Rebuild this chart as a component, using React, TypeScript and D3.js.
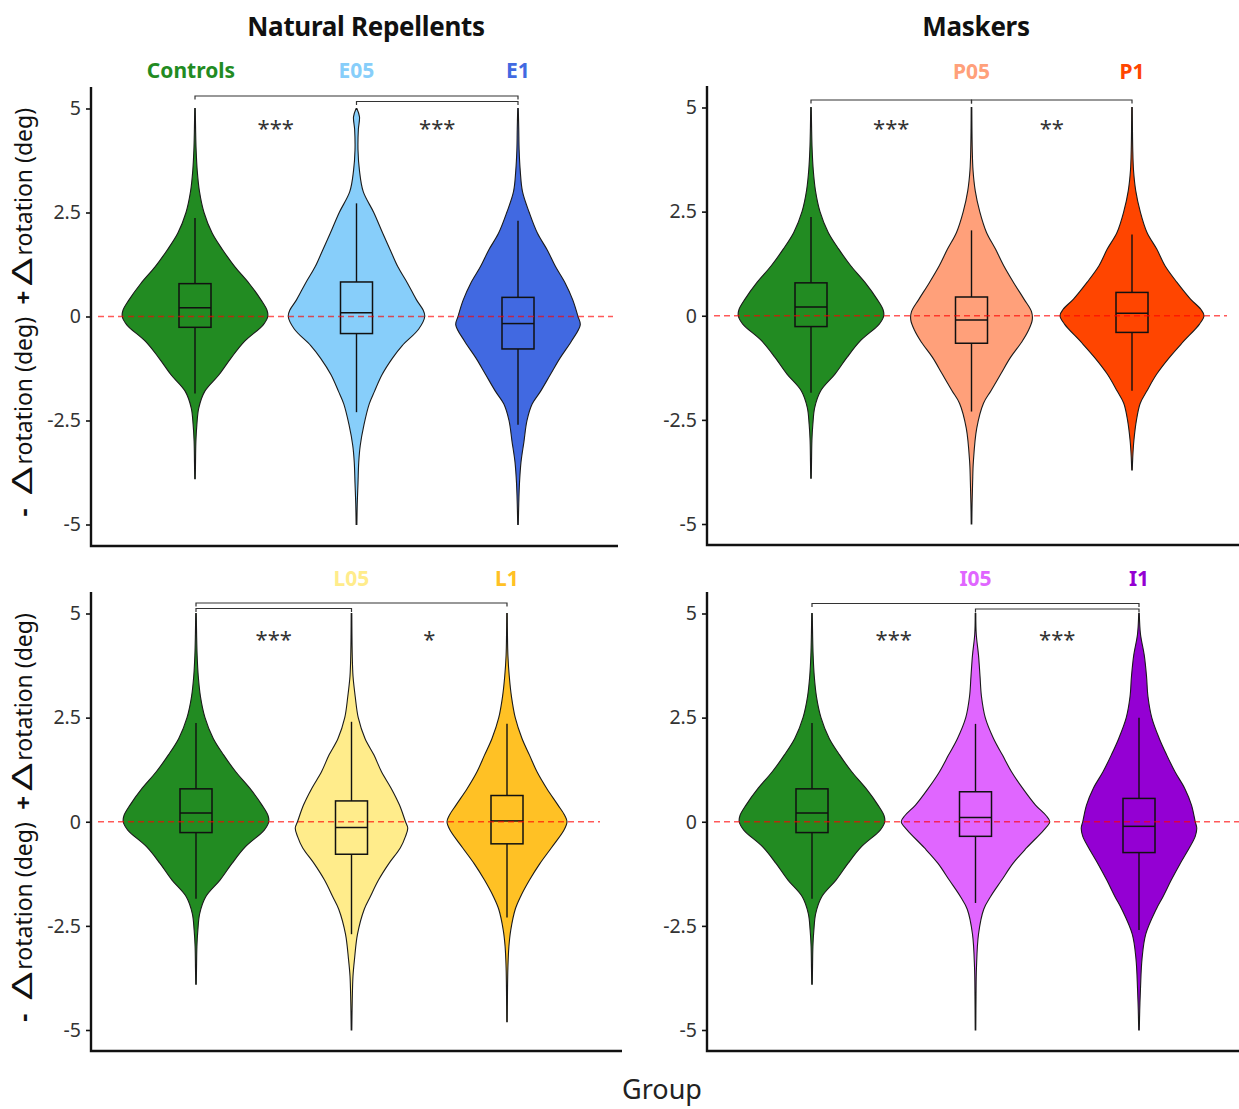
import React, { useEffect, useRef } from "react";
import * as d3 from "d3";

// y axis ticks (all panels)
const yTicks = [5, 2.5, 0, -2.5, -5];

// violin outlines: [rotation value, relative density]
const densControls: [number, number][] = [[5, 0.004], [4.5, 0.008], [4, 0.015], [3.5, 0.03], [3, 0.06], [2.5, 0.12], [2, 0.23], [1.6, 0.37], [1.2, 0.53], [0.8, 0.72], [0.4, 0.88], [0.15, 0.96], [0, 0.97], [-0.2, 0.91], [-0.6, 0.66], [-1, 0.48], [-1.4, 0.32], [-1.8, 0.13], [-2.2, 0.05], [-2.6, 0.025], [-3, 0.012], [-3.5, 0.007], [-3.9, 0.004]];
const densE05: [number, number][] = [[5, 0.005], [4.8, 0.04], [4.5, 0.025], [4, 0.02], [3.5, 0.04], [3, 0.09], [2.5, 0.23], [2, 0.35], [1.6, 0.45], [1.2, 0.55], [0.8, 0.68], [0.4, 0.8], [0.15, 0.89], [0, 0.91], [-0.3, 0.83], [-0.7, 0.61], [-1, 0.48], [-1.4, 0.34], [-1.8, 0.24], [-2.1, 0.17], [-2.6, 0.1], [-3.1, 0.05], [-3.5, 0.03], [-4, 0.02], [-4.5, 0.01], [-5, 0.005]];
const densE1: [number, number][] = [[5, 0.004], [4.5, 0.01], [4, 0.015], [3.5, 0.03], [3, 0.06], [2.5, 0.15], [2, 0.26], [1.6, 0.39], [1.2, 0.5], [0.8, 0.63], [0.4, 0.73], [0, 0.8], [-0.2, 0.83], [-0.6, 0.71], [-1, 0.56], [-1.4, 0.43], [-1.8, 0.3], [-2.1, 0.19], [-2.5, 0.12], [-3, 0.08], [-3.5, 0.04], [-4, 0.02], [-4.5, 0.01], [-5, 0.004]];
const densP05: [number, number][] = [[5, 0.004], [4.5, 0.006], [4, 0.01], [3.5, 0.02], [3, 0.05], [2.5, 0.11], [2, 0.2], [1.6, 0.32], [1.2, 0.43], [0.8, 0.56], [0.4, 0.7], [0.1, 0.8], [-0.1, 0.81], [-0.35, 0.76], [-0.63, 0.67], [-1, 0.52], [-1.4, 0.39], [-1.8, 0.26], [-2.1, 0.16], [-2.7, 0.07], [-3.5, 0.025], [-4, 0.015], [-4.5, 0.008], [-5, 0.004]];
const densP1: [number, number][] = [[5, 0.004], [4.5, 0.006], [4, 0.01], [3.5, 0.02], [3, 0.05], [2.5, 0.11], [2, 0.2], [1.6, 0.33], [1.2, 0.44], [0.8, 0.6], [0.4, 0.78], [0.15, 0.92], [0, 0.96], [-0.2, 0.9], [-0.63, 0.68], [-1, 0.5], [-1.4, 0.33], [-1.8, 0.2], [-2.1, 0.11], [-2.5, 0.06], [-3, 0.025], [-3.4, 0.01], [-3.7, 0.004]];
const densL05: [number, number][] = [[5, 0.004], [4.5, 0.006], [4, 0.01], [3.5, 0.02], [3, 0.05], [2.5, 0.09], [2, 0.18], [1.6, 0.3], [1.2, 0.4], [0.8, 0.53], [0.4, 0.64], [0, 0.72], [-0.15, 0.75], [-0.35, 0.72], [-0.63, 0.65], [-1, 0.5], [-1.4, 0.36], [-1.8, 0.25], [-2.1, 0.17], [-2.7, 0.08], [-3.3, 0.04], [-3.7, 0.02], [-4.3, 0.01], [-5, 0.004]];
const densL1: [number, number][] = [[5, 0.004], [4.5, 0.006], [4, 0.012], [3.5, 0.03], [3, 0.06], [2.5, 0.11], [2, 0.2], [1.6, 0.3], [1.2, 0.4], [0.8, 0.53], [0.4, 0.68], [0.15, 0.77], [0, 0.8], [-0.2, 0.76], [-0.63, 0.59], [-1, 0.44], [-1.4, 0.3], [-1.8, 0.18], [-2.1, 0.11], [-2.6, 0.05], [-3, 0.025], [-3.5, 0.012], [-4.2, 0.006], [-4.8, 0.004]];
const densI05: [number, number][] = [[5, 0.004], [4.5, 0.01], [4, 0.04], [3.5, 0.06], [3, 0.08], [2.5, 0.13], [2, 0.24], [1.6, 0.36], [1.2, 0.48], [0.8, 0.63], [0.4, 0.8], [0.15, 0.94], [0, 0.99], [-0.2, 0.91], [-0.63, 0.68], [-1, 0.5], [-1.4, 0.35], [-1.8, 0.2], [-2.1, 0.11], [-2.7, 0.04], [-3.5, 0.013], [-4.2, 0.007], [-5, 0.004]];
const densI1: [number, number][] = [[5, 0.004], [4.5, 0.02], [4, 0.07], [3.5, 0.1], [3, 0.12], [2.5, 0.17], [2, 0.27], [1.6, 0.37], [1.2, 0.48], [0.8, 0.61], [0.4, 0.7], [0, 0.75], [-0.15, 0.77], [-0.35, 0.75], [-0.63, 0.67], [-1, 0.55], [-1.4, 0.43], [-1.8, 0.32], [-2.1, 0.23], [-2.7, 0.09], [-3.3, 0.04], [-4, 0.02], [-4.5, 0.01], [-5, 0.004]];

// box stats: [lower whisker, q1, median, q3, upper whisker]
const boxControls = [-1.85, -0.26, 0.21, 0.79, 2.37];
const boxE05 = [-2.3, -0.41, 0.09, 0.83, 2.72];
const boxE1 = [-2.6, -0.78, -0.17, 0.46, 2.3];
const boxP05 = [-2.3, -0.66, -0.1, 0.45, 2.05];
const boxP1 = [-1.8, -0.4, 0.06, 0.56, 1.95];
const boxL05 = [-2.7, -0.78, -0.14, 0.5, 2.4];
const boxL1 = [-2.3, -0.53, 0.02, 0.63, 2.35];
const boxI05 = [-1.95, -0.35, 0.1, 0.72, 2.35];
const boxI1 = [-2.6, -0.74, -0.11, 0.56, 2.5];

// groups per panel
const groupsNatural1 = ["Controls", "E05", "E1"];
const groupsMaskers1 = ["Controls", "P05", "P1"];
const groupsNatural2 = ["Controls", "L05", "L1"];
const groupsMaskers2 = ["Controls", "I05", "I1"];

// significance: [from, to, bracket level] and [from, to, stars]
const bracketsE: [string, string, number][] = [["Controls", "E1", 0], ["E05", "E1", 1]];
const starsE: [string, string, string][] = [["Controls", "E05", "***"], ["E05", "E1", "***"]];
const bracketsP: [string, string, number][] = [["Controls", "P05", 0], ["P05", "P1", 0]];
const starsP: [string, string, string][] = [["Controls", "P05", "***"], ["P05", "P1", "**"]];
const bracketsL: [string, string, number][] = [["Controls", "L1", 0], ["Controls", "L05", 1]];
const starsL: [string, string, string][] = [["Controls", "L05", "***"], ["L05", "L1", "*"]];
const bracketsI: [string, string, number][] = [["Controls", "I1", 0], ["I05", "I1", 1]];
const starsI: [string, string, string][] = [["Controls", "I05", "***"], ["I05", "I1", "***"]];

const colors: Record<string, string> = {
  Controls: "#228B22", E05: "#87CEFA", E1: "#4169E1", P05: "#FFA07A", P1: "#FF4500",
  L05: "#FFEC8B", L1: "#FFC125", I05: "#E066FF", I1: "#9400D3",
};
const density: Record<string, [number, number][]> = {
  Controls: densControls, E05: densE05, E1: densE1, P05: densP05, P1: densP1,
  L05: densL05, L1: densL1, I05: densI05, I1: densI1,
};
const boxes: Record<string, number[]> = {
  Controls: boxControls, E05: boxE05, E1: boxE1, P05: boxP05, P1: boxP1,
  L05: boxL05, L1: boxL1, I05: boxI05, I1: boxI1,
};

const panels = [
  { groups: groupsNatural1, showCtrl: true, title: "Natural Repellents", titleX: 366, brackets: bracketsE, stars: starsE, yLabel: true,
    ax: 91, right: 618, dashEnd: 613, top: 87, bottom: 546, yRange: [524.5, 108.5], xRange: [195, 518], bracketY: 96, labelY: 78, starY: 124 },
  { groups: groupsMaskers1, showCtrl: false, title: "Maskers", titleX: 976, brackets: bracketsP, stars: starsP, yLabel: false,
    ax: 707, right: 1239, dashEnd: 1227, top: 86, bottom: 545, yRange: [524, 107.5], xRange: [811, 1132], bracketY: 100, labelY: 79, starY: 124 },
  { groups: groupsNatural2, showCtrl: false, title: "", titleX: 0, brackets: bracketsL, stars: starsL, yLabel: true,
    ax: 91, right: 622, dashEnd: 600, top: 592, bottom: 1051, yRange: [1030, 613.5], xRange: [196, 507], bracketY: 603, labelY: 586, starY: 635 },
  { groups: groupsMaskers2, showCtrl: false, title: "", titleX: 0, brackets: bracketsI, stars: starsI, yLabel: false,
    ax: 707, right: 1239, dashEnd: 1239, top: 592, bottom: 1051, yRange: [1030, 613.5], xRange: [812, 1139], bracketY: 603.5, labelY: 586, starY: 635 },
];

const font = "'Noto Sans', 'Open Sans', sans-serif";

export default function App() {
  const ref = useRef<SVGSVGElement>(null);

  useEffect(() => {
    const svg = d3.select(ref.current);
    svg.selectAll("*").remove();
    const wScale = d3.scaleLinear().domain([0, 1]).range([0, 75]);

    panels.forEach((p) => {
      const g = svg.append("g");
      const x = d3.scalePoint<string>().domain(p.groups).range(p.xRange as [number, number]);
      const y = d3.scaleLinear().domain([-5, 5]).range(p.yRange);

      // violins + boxes
      p.groups.forEach((name) => {
        const cx = x(name)!;
        const area = d3.area<[number, number]>()
          .y((d) => y(d[0]))
          .x0((d) => cx - wScale(d[1]))
          .x1((d) => cx + wScale(d[1]))
          .curve(d3.curveCatmullRom.alpha(0.5));
        g.append("path")
          .datum(density[name])
          .attr("d", area)
          .attr("fill", colors[name])
          .attr("stroke", "#1a1a1a")
          .attr("stroke-width", 1.1);

        const b = boxes[name];
        g.append("line").attr("x1", cx).attr("x2", cx).attr("y1", y(b[3])).attr("y2", y(b[4]))
          .attr("stroke", "#111").attr("stroke-width", 1.4);
        g.append("line").attr("x1", cx).attr("x2", cx).attr("y1", y(b[1])).attr("y2", y(b[0]))
          .attr("stroke", "#111").attr("stroke-width", 1.4);
        g.append("rect")
          .attr("x", cx - 16).attr("y", y(b[3]))
          .attr("width", 32).attr("height", y(b[1]) - y(b[3]))
          .attr("fill", "none").attr("stroke", "#111").attr("stroke-width", 1.5);
        g.append("line").attr("x1", cx - 16).attr("x2", cx + 16).attr("y1", y(b[2])).attr("y2", y(b[2]))
          .attr("stroke", "#111").attr("stroke-width", 1.5);
      });

      // zero reference line
      g.append("line")
        .attr("x1", p.ax + 7).attr("x2", p.dashEnd)
        .attr("y1", y(0)).attr("y2", y(0))
        .attr("stroke", "#FF0000").attr("stroke-opacity", 0.65)
        .attr("stroke-width", 1.5).attr("stroke-dasharray", "6,4");

      // y axis ticks + labels
      const axis = g.append("g")
        .attr("transform", `translate(${p.ax},0)`)
        .call(d3.axisLeft(y).tickValues(yTicks).tickSize(5).tickPadding(5).tickFormat((d) => String(d)));
      axis.select(".domain").remove();
      axis.selectAll(".tick line").attr("stroke", "#111").attr("stroke-width", 1.6);
      axis.selectAll(".tick text")
        .attr("font-family", font).attr("font-size", 19.5).attr("fill", "#333");

      // axis lines
      g.append("path")
        .attr("d", `M${p.ax},${p.top}V${p.bottom}H${p.right}`)
        .attr("fill", "none").attr("stroke", "#111").attr("stroke-width", 2.4);

      // group labels on top
      p.groups.forEach((name) => {
        if (name === "Controls" && !p.showCtrl) return;
        g.append("text")
          .attr("x", x(name)! - (name === "Controls" ? 4 : 0)).attr("y", p.labelY)
          .attr("text-anchor", "middle")
          .attr("font-family", font).attr("font-weight", 700).attr("font-size", 21)
          .attr("fill", colors[name])
          .text(name);
      });

      // brackets
      p.brackets.forEach(([a, b, lvl]) => {
        const by = p.bracketY + lvl * 5.5;
        g.append("path")
          .attr("d", `M${x(a)},${by + 3.5}V${by}H${x(b)}V${by + 3.5}`)
          .attr("fill", "none").attr("stroke", "#333").attr("stroke-width", 1.2);
      });
      p.stars.forEach(([a, b, s]) => {
        g.append("text")
          .attr("x", (x(a)! + x(b)!) / 2).attr("y", p.starY + 12)
          .attr("text-anchor", "middle")
          .attr("font-family", font).attr("font-size", 22).attr("fill", "#333")
          .text(s);
      });

      // title
      if (p.title) {
        svg.append("text")
          .attr("x", p.titleX).attr("y", 36)
          .attr("text-anchor", "middle")
          .attr("font-family", font).attr("font-weight", 700).attr("font-size", 26)
          .attr("letter-spacing", -0.3)
          .attr("fill", "#111")
          .text(p.title);
      }

      // y label: "- Δrotation (deg)   +Δrotation (deg)"
      if (p.yLabel) {
        const lg = svg.append("g").attr("transform", `translate(32,${y(0)}) rotate(-90)`);
        const part = (tx: number, txt: string, size: number, bold: boolean, sx = 1) =>
          lg.append("text")
            .attr("transform", `translate(${tx},0) scale(${sx},1)`)
            .attr("font-family", font).attr("font-size", size)
            .attr("font-weight", bold ? 700 : 400).attr("fill", "#111")
            .text(txt);
        part(-200, "-", 25, true);
        part(-178, "Δ", 27, false, 1.6);
        part(-148, "rotation (deg)", 23, false);
        part(12, "+", 24, true);
        part(31, "Δ", 27, false, 1.6);
        part(61, "rotation (deg)", 23, false);
      }
    });

    svg.append("text")
      .attr("x", 662).attr("y", 1099)
      .attr("text-anchor", "middle")
      .attr("font-family", font).attr("font-size", 27).attr("fill", "#222")
      .text("Group");
  }, []);

  return (
    <svg ref={ref} width={1239} height={1109}
      style={{ position: "absolute", left: 0, top: 0, background: "#fff" }} />
  );
}
